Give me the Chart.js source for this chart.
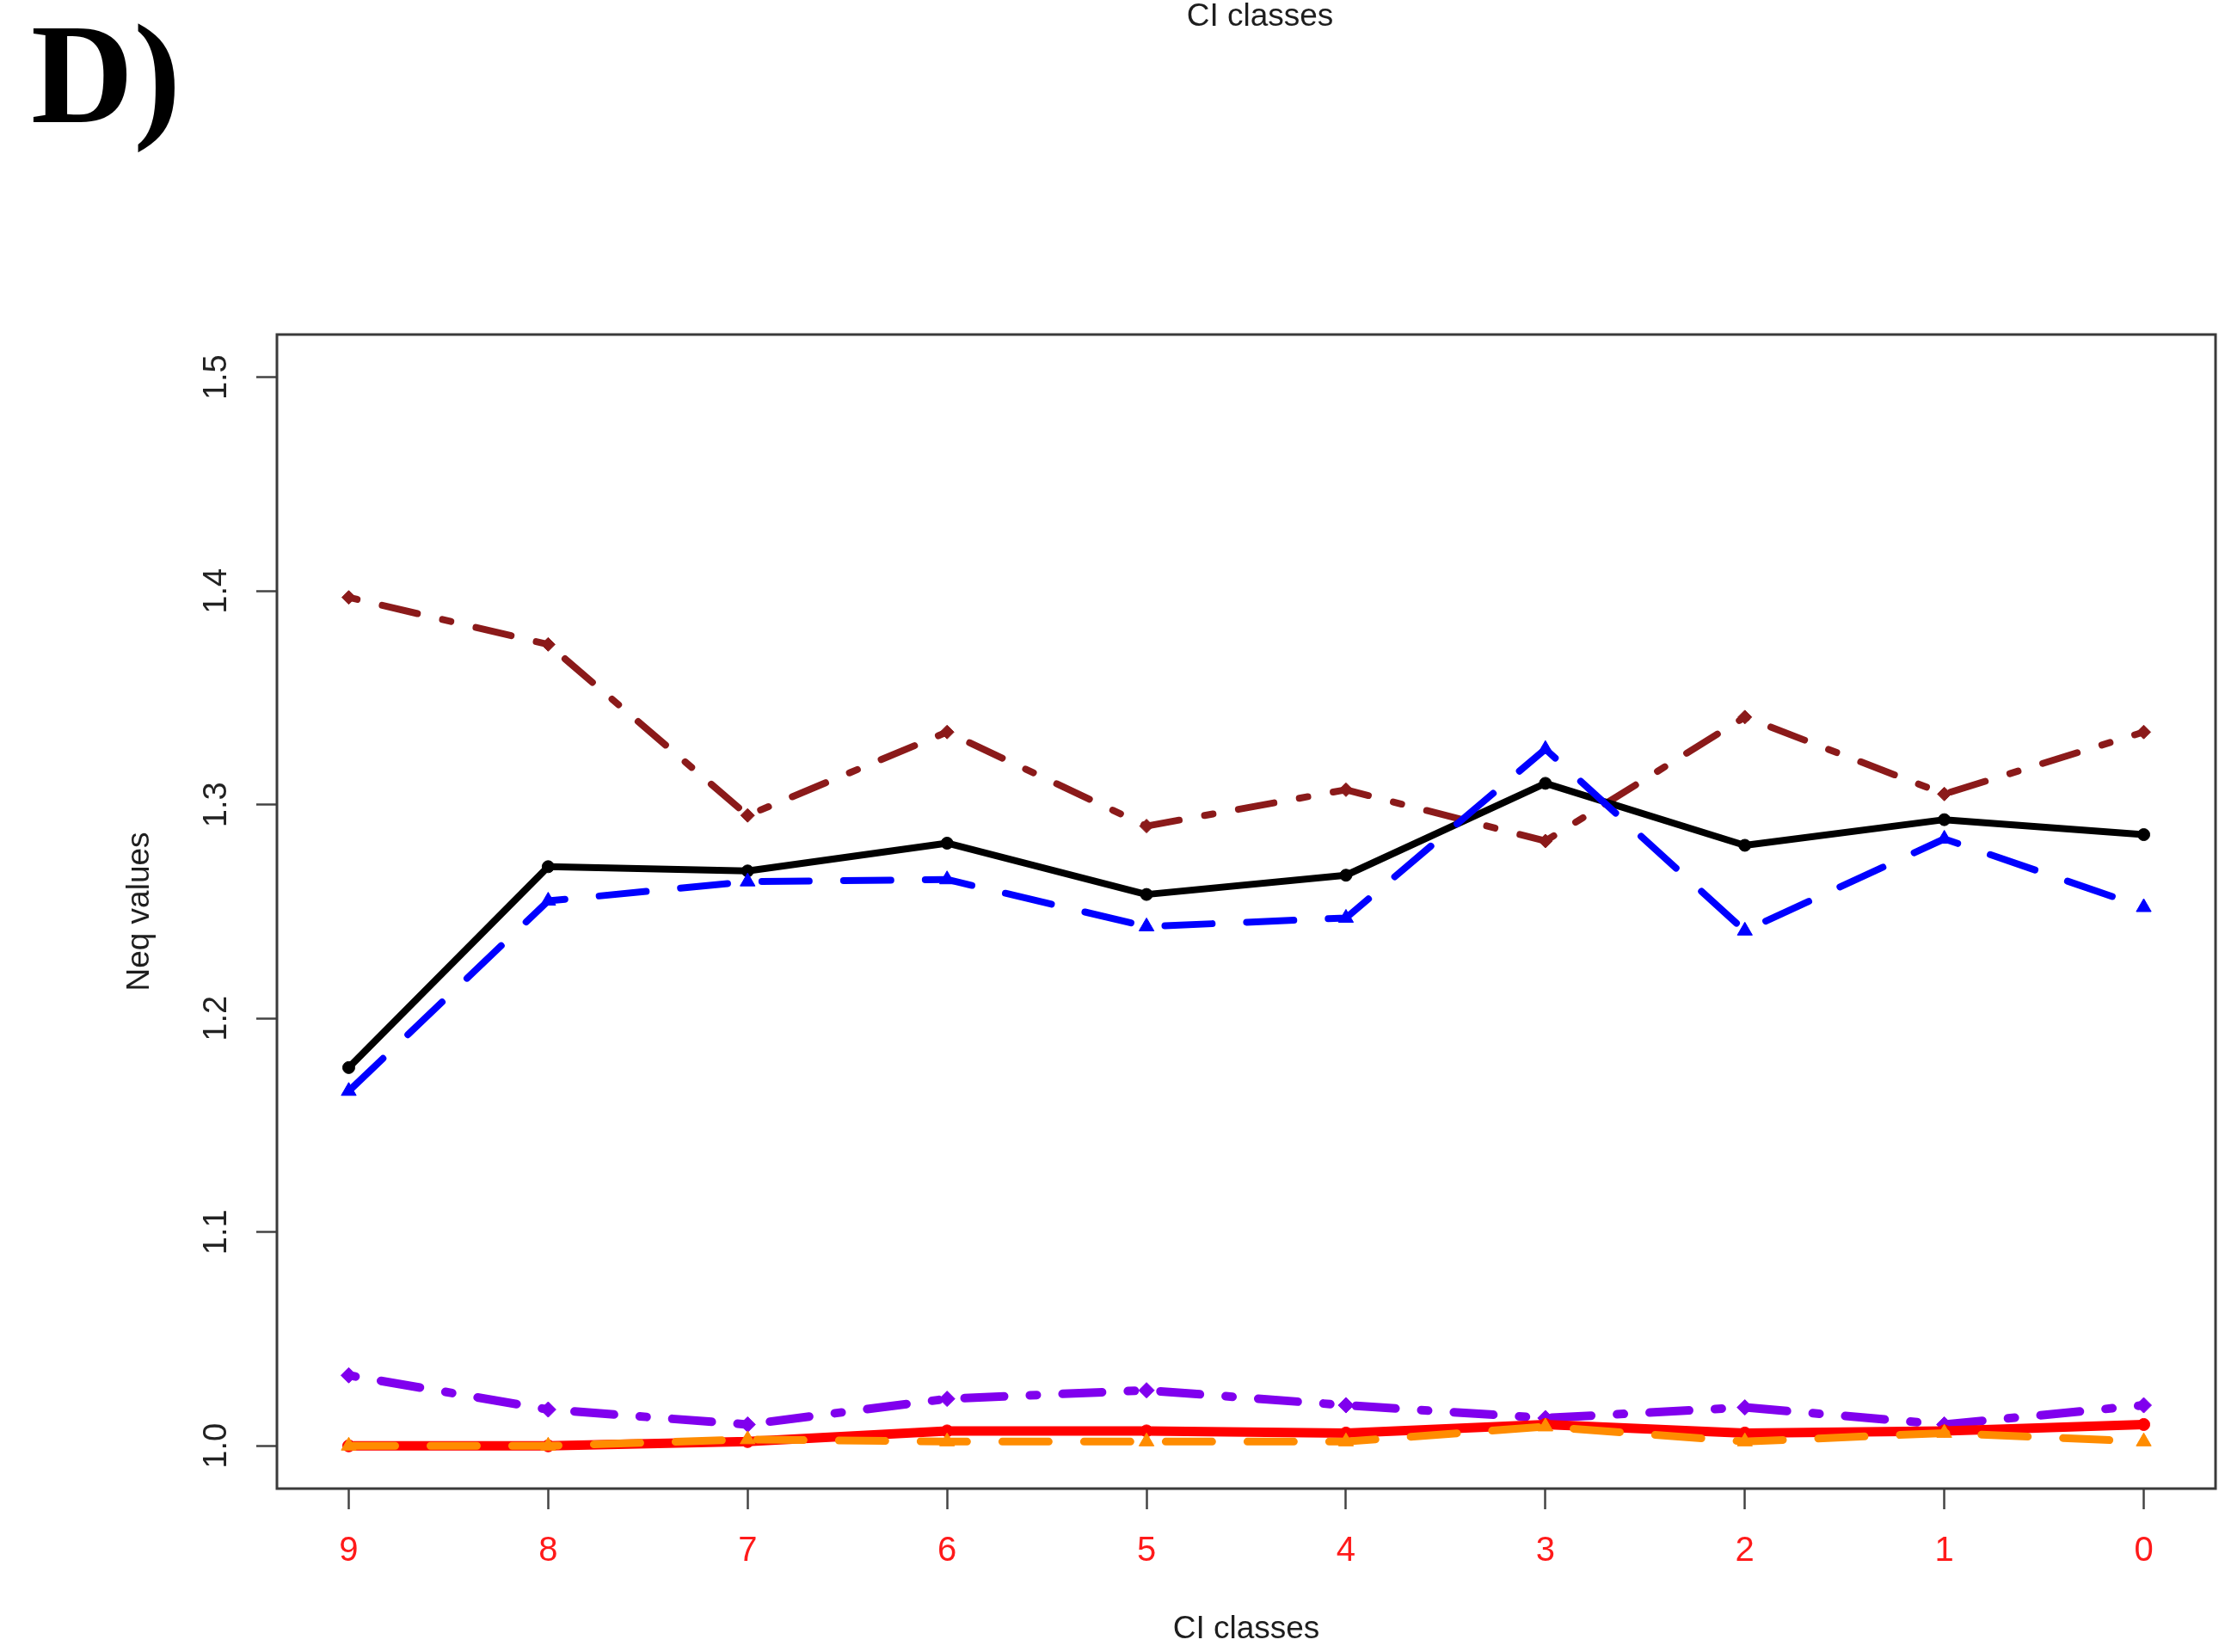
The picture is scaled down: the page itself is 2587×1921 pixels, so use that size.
<!DOCTYPE html>
<html>
<head>
<meta charset="utf-8">
<script src="https://cdn.jsdelivr.net/npm/chart.js@4.4.1/dist/chart.umd.min.js"></script>
<style>
  html, body { margin: 0; padding: 0; background: #ffffff; }
  #c { display: block; }
</style>
</head>
<body>
<canvas id="c" width="2587" height="1921"></canvas>
<script>
// ---- data ----
const classLabels = ['9', '8', '7', '6', '5', '4', '3', '2', '1', '0'];
const yTickValues = [1.0, 1.1, 1.2, 1.3, 1.4, 1.5];
const yTickLabels = ['1.0', '1.1', '1.2', '1.3', '1.4', '1.5'];

const blackSolid   = [1.177, 1.271, 1.269, 1.282, 1.258, 1.267, 1.310, 1.281, 1.293, 1.286];
const blueDashed   = [1.166, 1.255, 1.264, 1.265, 1.243, 1.247, 1.326, 1.241, 1.284, 1.252];
const brownDotDash = [1.397, 1.375, 1.295, 1.334, 1.290, 1.307, 1.283, 1.341, 1.305, 1.334];
const purpleDotDash= [1.033, 1.017, 1.010, 1.022, 1.026, 1.019, 1.013, 1.018, 1.010, 1.019];
const redSolid     = [1.000, 1.000, 1.002, 1.007, 1.007, 1.006, 1.010, 1.006, 1.007, 1.010];
const orangeDashed = [1.000, 1.000, 1.003, 1.002, 1.002, 1.002, 1.009, 1.002, 1.006, 1.002];

const toPts = arr => arr.map((v, i) => ({ x: i, y: v }));

const FONT = '"Liberation Sans", Arial, Helvetica, sans-serif';

const extraText = {
  id: 'extraText',
  afterDatasetsDraw(chart) {
    const { ctx, chartArea: a } = chart;
    ctx.save();
    // plot box
    ctx.strokeStyle = '#3a3a3a';
    ctx.lineWidth = 3;
    ctx.strokeRect(a.left, a.top, a.right - a.left, a.bottom - a.top);
    ctx.restore();
  },
  afterDraw(chart) {
    const { ctx, chartArea: a } = chart;
    ctx.save();
    // panel letter
    ctx.fillStyle = '#000';
    ctx.font = 'bold 165px "Liberation Serif", "Times New Roman", serif';
    ctx.textAlign = 'left';
    ctx.textBaseline = 'alphabetic';
    ctx.fillText('D)', 36, 142);
    // label of the panel above (cut off)
    ctx.fillStyle = '#1e1e1e';
    ctx.font = '37px ' + FONT;
    ctx.textAlign = 'center';
    ctx.fillText('CI classes', 1465, 30);
    // x axis title
    ctx.fillText('CI classes', (a.left + a.right) / 2, 1905);
    // y axis title
    ctx.translate(163, (a.top + a.bottom) / 2);
    ctx.rotate(-Math.PI / 2);
    ctx.textBaseline = 'middle';
    ctx.fillText('Neq values', 0, 0);
    ctx.restore();
  }
};

function ds(label, arr, color, width, dash, style, radius) {
  return {
    label: label,
    data: toPts(arr),
    borderColor: color,
    backgroundColor: color,
    borderWidth: width,
    borderDash: dash,
    borderCapStyle: 'round',
    borderJoinStyle: 'round',
    pointStyle: style,
    pointRadius: radius,
    pointBackgroundColor: color,
    pointBorderColor: color,
    pointBorderWidth: 1,
    tension: 0,
    fill: false
  };
}

new Chart(document.getElementById('c'), {
  type: 'line',
  data: {
    datasets: [
      ds('orange', orangeDashed, '#ff8c00', 9, [54, 41], 'triangle', 10),
      ds('red', redSolid, '#ff0000', 11, [], 'circle', 7),
      ds('purple', purpleDotDash, '#8000ee', 10, [8, 30, 46, 30], 'rectRot', 9),
      ds('blue', blueDashed, '#0000ff', 8, [55, 40], 'triangle', 10),
      ds('black', blackSolid, '#000000', 8, [], 'circle', 7),
      ds('brown', brownDotDash, '#8b1a1a', 8, [10, 30, 42, 30], 'rectRot', 8)
    ]
  },
  options: {
    responsive: false,
    animation: false,
    events: [],
    layout: { padding: { top: 389, right: 10, left: 0, bottom: 0 } },
    plugins: { legend: { display: false }, tooltip: { enabled: false }, title: { display: false } },
    scales: {
      x: {
        type: 'linear',
        position: 'bottom',
        min: -0.36,
        max: 9.36,
        afterBuildTicks: s => { s.ticks = classLabels.map((_, i) => ({ value: i })); },
        afterFit: s => { s.height = 190; },
        border: { display: false },
        grid: { display: true, drawOnChartArea: false, drawTicks: true, tickLength: 24, tickWidth: 2.5, tickColor: '#444' },
        ticks: {
          color: '#ff1a1a',
          font: { family: FONT, size: 40 },
          padding: 25,
          maxRotation: 0,
          minRotation: 0,
          autoSkip: false,
          callback: v => classLabels[v]
        }
      },
      y: {
        type: 'linear',
        position: 'left',
        min: 0.98,
        max: 1.52,
        afterBuildTicks: s => { s.ticks = yTickValues.map(v => ({ value: v })); },
        afterFit: s => { s.width = 322; },
        border: { display: false },
        grid: { display: true, drawOnChartArea: false, drawTicks: true, tickLength: 24, tickWidth: 2.5, tickColor: '#444' },
        ticks: {
          color: '#222',
          font: { family: FONT, size: 38 },
          padding: 19,
          minRotation: 90,
          maxRotation: 90,
          crossAlign: 'center',
          autoSkip: false,
          callback: (v, i) => yTickLabels[i]
        }
      }
    }
  },
  plugins: [extraText]
});
</script>
</body>
</html>
